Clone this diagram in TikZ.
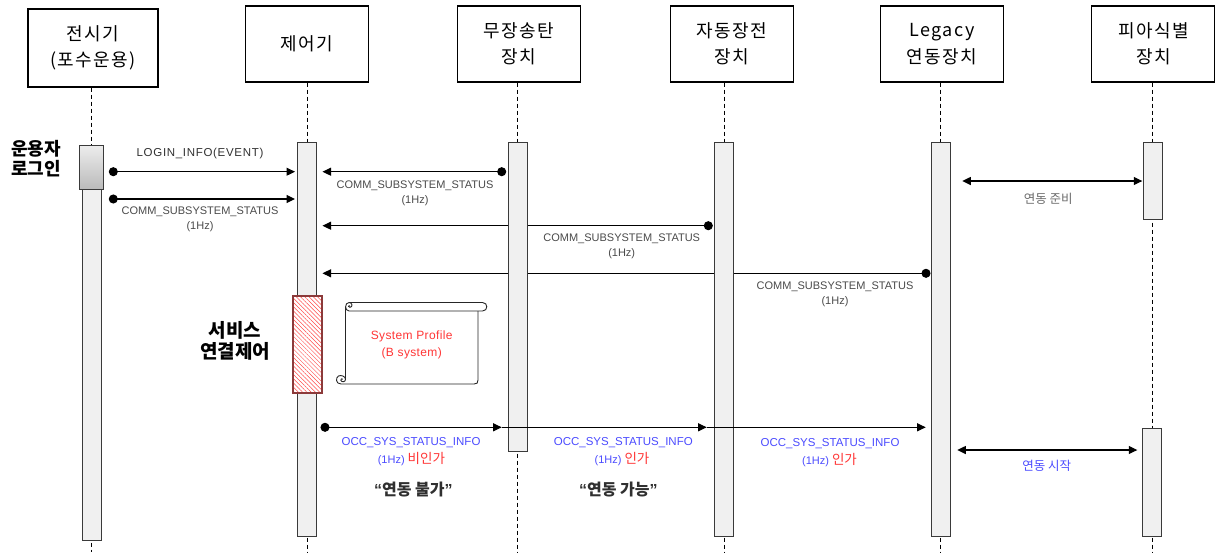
\documentclass[tikz,border=0pt]{standalone}
\usepackage{fontspec}
\setmainfont{Liberation Sans}
\newfontfamily\kr{Noto Sans CJK KR}
\usetikzlibrary{arrows.meta,patterns.meta}
\pgfdeclarelayer{bg}
\pgfsetlayers{bg,main}
\definecolor{barfill}{HTML}{F0F0F0}
\definecolor{bardraw}{HTML}{3A3A3A}
\definecolor{msggray}{HTML}{4A4A4A}
\definecolor{lightgray2}{HTML}{6A6A6A}
\definecolor{occblue}{HTML}{4B4BFF}
\definecolor{occred}{HTML}{FF3535}
\definecolor{hatchborder}{HTML}{8C3A3A}
\definecolor{quotegray}{HTML}{303030}
\begin{document}
\begin{tikzpicture}[x=1pt,y=-1pt,
  hdr/.style={draw,line width=1.1pt,minimum width=123pt,minimum height=76pt,align=center,inner sep=0pt,
    font=\kr\fontsize{18}{26.5}\selectfont\addfontfeature{LetterSpace=8}},
  bar/.style={draw=bardraw,fill=barfill,line width=0.9pt,minimum width=19pt,inner sep=0pt},
  life/.style={dash pattern=on 4pt off 3pt,line width=0.8pt},
  tri/.tip={Triangle[length=8.5pt,width=8pt]},
  msg/.style={line width=1.1pt,-tri},
  dmsg/.style={line width=1.1pt,{Circle[length=9pt]}-tri},
  both/.style={line width=1.1pt,tri-tri},
  lbl/.style={inner sep=0pt,align=center,text=msggray,font=\fontsize{11}{15}\selectfont},
  occ/.style={inner sep=0pt,text=occblue,font=\fontsize{11.5}{15}\selectfont},
  scroll/.style={line width=0.9pt,draw=black!85},
]
\useasboundingbox (0,0) rectangle (1217,552);

% headers
\node[hdr,minimum width=130pt,minimum height=78pt] (h1) at (93,48) {전시기\\(포수운용)};
\node[hdr] (h2) at (307,44) {제어기};
\node[hdr] (h3) at (518.8,44) {무장송탄\\장치};
\node[hdr] (h4) at (731.7,44) {자동장전\\장치};
\node[hdr] (h5) at (942,44) {Legacy\\연동장치};
\node[hdr] (h6) at (1153.3,44) {피아식별\\장치};

% activation bars
\node[bar,minimum width=19.3pt,minimum height=351.4pt] (b1) at (91.65,365) {};
\node[draw=bardraw,line width=1pt,inner sep=0pt,minimum width=24pt,minimum height=44.3pt,
      top color=black!7,bottom color=black!27] (b1top) at (91.3,167.15) {};
\node[bar,minimum height=394.4pt] (b2) at (307.2,339.5) {};
\node[bar,minimum height=309.4pt] (b3) at (517.5,297) {};
\node[bar,minimum height=394.4pt] (b4) at (724.2,339.5) {};
\node[bar,minimum height=394.4pt] (b5) at (940.75,339.5) {};
\node[bar,minimum height=76.7pt] (b6a) at (1152.65,180.65) {};
\node[bar,minimum height=108pt] (b6b) at (1152.35,482.7) {};

% message end points
\coordinate (m1s) at (108.8,171.7);  \coordinate (m1e) at (295,171.7);
\coordinate (m2s) at (108.8,199);    \coordinate (m2e) at (295,199);
\coordinate (m3s) at (506.2,171.7);  \coordinate (m3e) at (322.5,171.7);
\coordinate (m4s) at (712.8,225.7);  \coordinate (m4e) at (322.5,225.7);
\coordinate (m5s) at (930.5,273.3);  \coordinate (m5e) at (322.5,273.3);
\coordinate (r1s) at (962.3,181);    \coordinate (r1e) at (1142.3,181);
\coordinate (o0) at (320.5,427.3);   \coordinate (o1) at (501.7,427.3);
\coordinate (o2) at (706.7,427.3);   \coordinate (o3) at (925.7,427.3);
\coordinate (r2s) at (957.3,450);    \coordinate (r2e) at (1137.3,450);

\begin{pgfonlayer}{bg}
  \foreach \h/\b in {h1/b1,h2/b2,h3/b3,h4/b4,h5/b5,h6/b6a}
    \draw[life] (\h.south -| \b) -- (\b |- 0,552);
  \draw[dmsg] (m4s) -- (m4e);
  \draw[dmsg] (m5s) -- (m5e);
\end{pgfonlayer}

\draw[dmsg] (m1s) -- (m1e);
\draw[dmsg] (m2s) -- (m2e);
\draw[dmsg] (m3s) -- (m3e);
\draw[both] (r1s) -- (r1e);
\draw[dmsg] (o0) -- (o1);
\draw[msg] (o1) -- (o2);
\draw[msg] (o2) -- (o3);
\draw[both] (r2s) -- (r2e);

% labels
\node[lbl,text=quotegray,font=\fontsize{11.5}{15}\selectfont\addfontfeature{LetterSpace=6}] (t1) at (200,154) {LOGIN\_INFO(EVENT)};
\node[lbl] (t2) at (200,219.2) {COMM\_SUBSYSTEM\_STATUS\\(1Hz)};
\node[lbl] (t3) at (415,193.3) {COMM\_SUBSYSTEM\_STATUS\\(1Hz)};
\node[lbl] (t4) at (621.7,246) {COMM\_SUBSYSTEM\_STATUS\\(1Hz)};
\node[lbl] (t5) at (835,294.2) {COMM\_SUBSYSTEM\_STATUS\\(1Hz)};
\node[inner sep=0pt,text=lightgray2,font=\kr\fontsize{12.5}{15}\selectfont] (t6) at (1048.3,199.3) {연동 준비};

\node[occ] (o1a) at (411,442.7) {OCC\_SYS\_STATUS\_INFO};
\node[occ,anchor=base] (o1b) at (411.4,463.5) {\fontsize{11}{13}\selectfont(1Hz) {\kr\fontsize{13.5}{15}\selectfont\color{occred}비인가}};
\node[occ] (o2a) at (623.3,442.7) {OCC\_SYS\_STATUS\_INFO};
\node[occ,anchor=base] (o2b) at (622,463.5) {\fontsize{11}{13}\selectfont(1Hz) {\kr\fontsize{13.5}{15}\selectfont\color{occred}인가}};
\node[occ] (o3a) at (830,444) {OCC\_SYS\_STATUS\_INFO};
\node[occ,anchor=base] (o3b) at (829.5,464.5) {\fontsize{11}{13}\selectfont(1Hz) {\kr\fontsize{13.5}{15}\selectfont\color{occred}인가}};
\node[inner sep=0pt,text=occblue,font=\kr\fontsize{12.5}{15}\selectfont] (t7) at (1046.7,466) {연동 시작};

\node[inner sep=0pt,text=quotegray,font=\bfseries\fontsize{16}{16}\selectfont] (q1) at (413.3,489.3) {“{\kr 연동 불가}”};
\node[inner sep=0pt,text=quotegray,font=\bfseries\fontsize{16}{16}\selectfont] (q2) at (618.3,489.3) {“{\kr 연동 가능}”};

\node[inner sep=0pt,align=center,font=\kr\bfseries\fontsize{18}{20.7}\selectfont] (u1) at (36,158.7) {운용자\\로그인};
\node[inner sep=0pt,align=center,font=\kr\bfseries\fontsize{19}{21.7}\selectfont] (s1) at (235,340.8) {서비스\\연결제어};

% hatched service box
\node[draw=hatchborder,line width=2.4pt,inner sep=0pt,minimum width=29pt,minimum height=96.7pt,
      preaction={fill=white},pattern={Lines[angle=-45,distance=3pt,line width=0.5pt]},pattern color=red!70]
      (hb) at (307.2,344.35) {};

% scroll
\draw[scroll,fill=white] (349,302.5) -- (482.5,302.5) .. controls (488.2,302.5) and (488.2,311) .. (482.5,311) -- (349,311);
\draw[scroll] (478,311) -- (478,380) .. controls (478,383) and (477,384) .. (474,384) -- (341,384);
\draw[scroll] (345.5,307) -- (345.5,379.5);
\draw[scroll] (349,311) .. controls (344.5,311) and (344.5,302.5) .. (349,302.5) .. controls (352.5,302.5) and (353,307) .. (350,307.3) .. controls (348.3,307.4) and (348,305.5) .. (349.5,305.3);
\draw[scroll] (345.5,379.5) .. controls (345.5,376) and (341,374.8) .. (338.5,376) .. controls (335.5,377.5) and (335.5,384) .. (341,384);
\draw[scroll] (345.5,379.5) .. controls (345.5,382) and (341.5,382.5) .. (340.8,380.3) .. controls (340.5,378.8) and (342,378.4) .. (342.8,379.2);
\node[inner sep=0pt,align=center,text=occred,font=\fontsize{12}{16.6}\selectfont\addfontfeature{LetterSpace=3}] (sp) at (411.7,345) {System Profile\\(B system)};
\end{tikzpicture}
\end{document}
